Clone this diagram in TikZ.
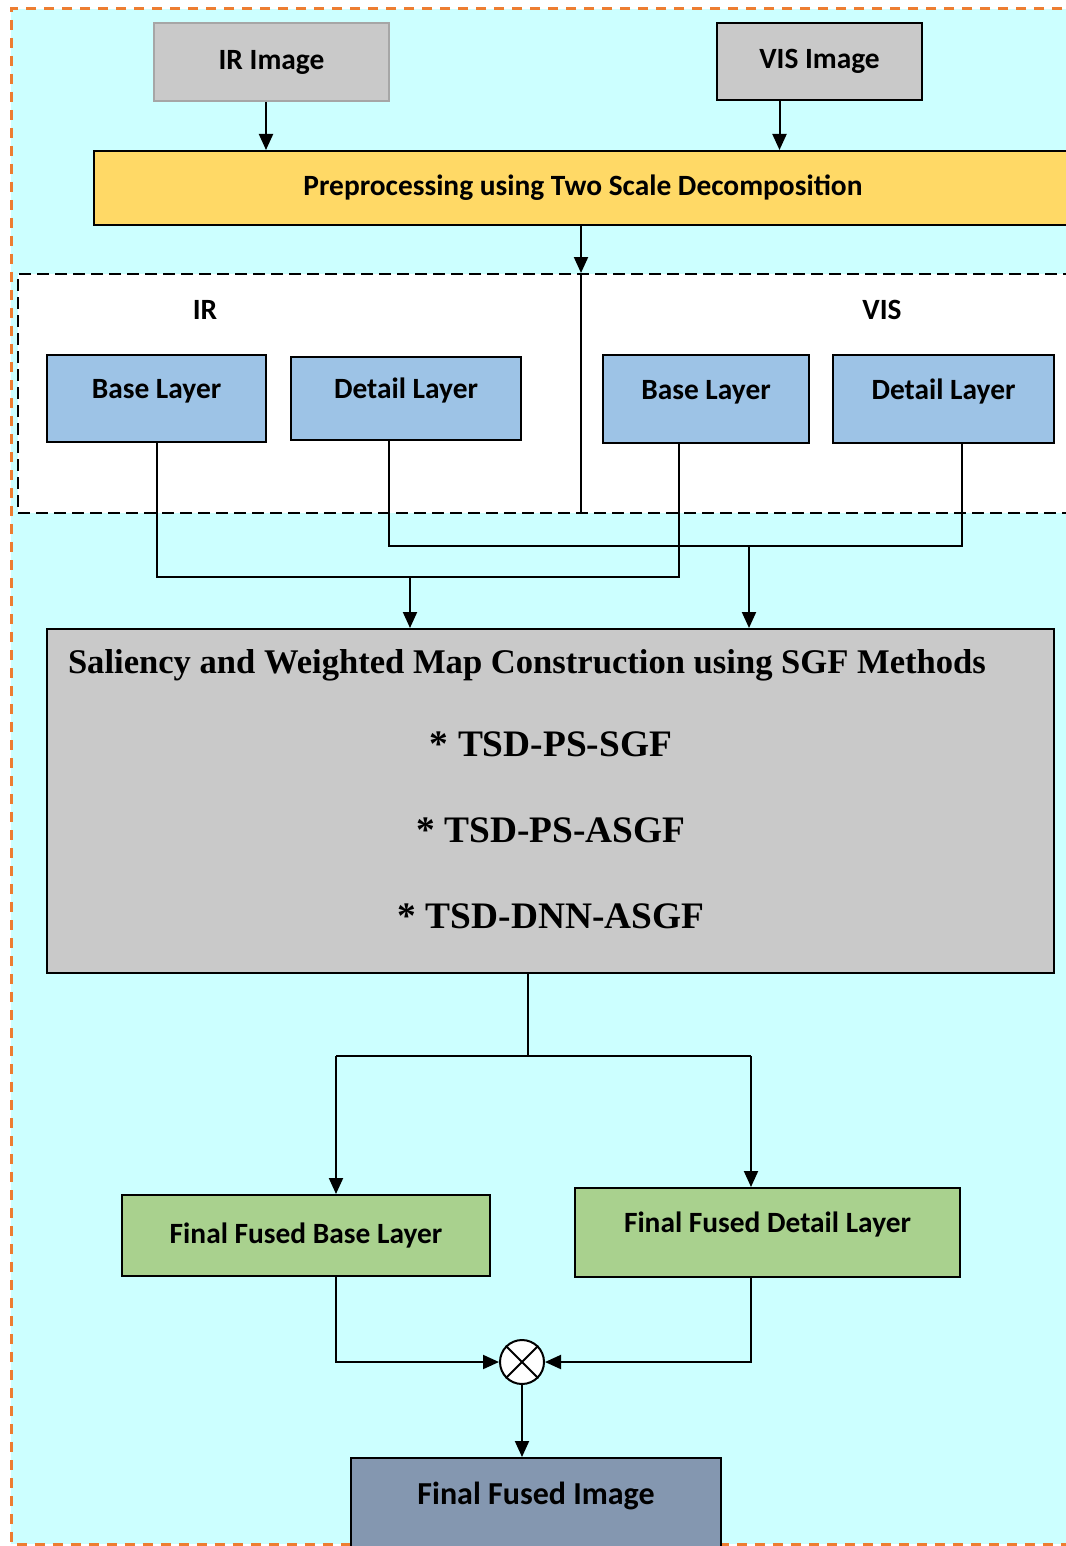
\documentclass[tikz,border=0pt]{standalone}
\usepackage{fontspec}
\setmainfont{Liberation Serif}
\newfontfamily\carlito{Carlito}
\usetikzlibrary{arrows.meta}
\definecolor{bgcyan}{HTML}{CCFFFF}
\definecolor{frameorange}{HTML}{ED7D31}
\definecolor{imggray}{HTML}{C9C9C9}
\definecolor{prepyellow}{HTML}{FFD966}
\definecolor{layblue}{HTML}{9DC3E6}
\definecolor{fusegreen}{HTML}{A9D18E}
\definecolor{fuseslate}{HTML}{8497B0}
\tikzset{
  box/.style={draw, line width=1pt, font=\carlito\bfseries\fontsize{14.7}{17}\selectfont},
  lay/.style={box, fill=layblue, text height=6pt, text depth=6pt},
  fin/.style={box, fill=fusegreen},
  arr/.style={-{Triangle[length=8pt,width=7pt]}},
  item/.style={font=\bfseries\fontsize{18.7}{22}\selectfont},
}
\begin{document}
\begin{tikzpicture}[x=0.5pt, y=-0.5pt, line width=1pt]
  \useasboundingbox (0,0) rectangle (1065,1546);
  % frame
  \fill[bgcyan] (11,9) rectangle (1080,1544);
  \draw[frameorange, line width=1.5pt, dash pattern=on 5pt off 4pt]
    (1080,9) -- (11,9) -- (11,1544) -- (1080,1544);
  % inputs
  \node[box, fill=imggray, draw=gray!70, minimum width=117.5pt, minimum height=39pt] (irimg) at (271.5,62) {IR Image};
  \node[box, fill=imggray, minimum width=102.5pt, minimum height=38.5pt] (visimg) at (819.5,61.5) {VIS Image};
  \node[box, fill=prepyellow, minimum width=489pt, minimum height=37pt] (prep) at (583,188) {Preprocessing using Two Scale Decomposition};
  % decomposition
  \node[draw, fill=white, dash pattern=on 6pt off 3pt, line width=1pt, minimum width=528.5pt, minimum height=119.5pt] (decomp) at (546.5,393.5) {};
  \node[font=\carlito\bfseries\fontsize{14.7}{17}\selectfont] (irlbl) at (205,310) {IR};
  \node[font=\carlito\bfseries\fontsize{14.7}{17}\selectfont] (vislbl) at (882,310) {VIS};
  \node[lay, minimum width=109.5pt, minimum height=43.5pt] (irbase) at (156.5,398.5) {Base Layer};
  \node[lay, minimum width=115pt, minimum height=41.5pt] (irdet) at (406,398) {Detail Layer};
  \node[lay, minimum width=103pt, minimum height=44pt] (visbase) at (706,399) {Base Layer};
  \node[lay, minimum width=110.5pt, minimum height=44pt] (visdet) at (943.5,399) {Detail Layer};
  % saliency
  \node[draw, fill=imggray, minimum width=503.5pt, minimum height=172pt] (salmap) at (550.5,801) {};
  \node[anchor=west, inner sep=0pt, font=\bfseries\fontsize{17.3}{20}\selectfont] (saltitle) at (67,665) {Saliency and Weighted Map Construction using SGF Methods};
  \node[item] (m1) at (551,744) {* TSD-PS-SGF};
  \node[item] (m2) at (551,830) {* TSD-PS-ASGF};
  \node[item] (m3) at (551,916) {* TSD-DNN-ASGF};
  % fusion
  \node[fin, minimum width=184pt, minimum height=40.5pt] (ffbase) at (306,1235.5) {Final Fused Base Layer};
  \node[fin, text height=6pt, text depth=6pt, minimum width=192.5pt, minimum height=44.5pt] (ffdet) at (767.5,1232.5) {Final Fused Detail Layer};
  \node[circle, draw, fill=white, minimum size=22pt, inner sep=0pt] (mult) at (522,1362) {};
  \node[box, fill=fuseslate, font=\carlito\bfseries\fontsize{16}{18}\selectfont, text height=6pt, text depth=6pt, minimum width=185pt, minimum height=46pt] (fused) at (536,1504) {Final Fused Image};
  \draw (mult.north west) -- (mult.south east);
  \draw (mult.north east) -- (mult.south west);
  % connectors
  \coordinate (jb) at (410,577);
  \coordinate (jd) at (749,546);
  \coordinate (js) at (528,1056);
  \coordinate (jl) at (336,1056);
  \coordinate (jr) at (751,1056);
  \draw[arr] ([xshift=-2.75pt]irimg.south) -- ([xshift=-2.75pt]irimg.south |- prep.north);
  \draw[arr] ([xshift=-20pt]visimg.south) -- ([xshift=-20pt]visimg.south |- prep.north);
  \draw[arr] ([xshift=-1pt]prep.south) -- ([xshift=-1pt]prep.south |- decomp.north);
  \draw ([xshift=-1pt]prep.south |- decomp.north) -- ([xshift=-1pt]prep.south |- decomp.south);
  \draw (irbase.south) |- ([xshift=-13.5pt]visbase.south |- jb) -- ([xshift=-13.5pt]visbase.south);
  \draw ([xshift=-8.5pt]irdet.south) |- ([xshift=9.25pt]visdet.south |- jd) -- ([xshift=9.25pt]visdet.south);
  \draw[arr] (jb) -- (jb |- salmap.north);
  \draw[arr] (jd) -- (jd |- salmap.north);
  \draw (js |- salmap.south) -- (js);
  \draw (jl) -- (jr);
  \draw[arr] (jl) -- (jl |- ffbase.north);
  \draw[arr] (jr) -- (jr |- ffdet.north);
  \draw[arr] (jl |- ffbase.south) |- (mult.west);
  \draw[arr] (jr |- ffdet.south) |- (mult.east);
  \draw[arr] (mult.south) -- (mult.south |- fused.north);
\end{tikzpicture}
\end{document}
